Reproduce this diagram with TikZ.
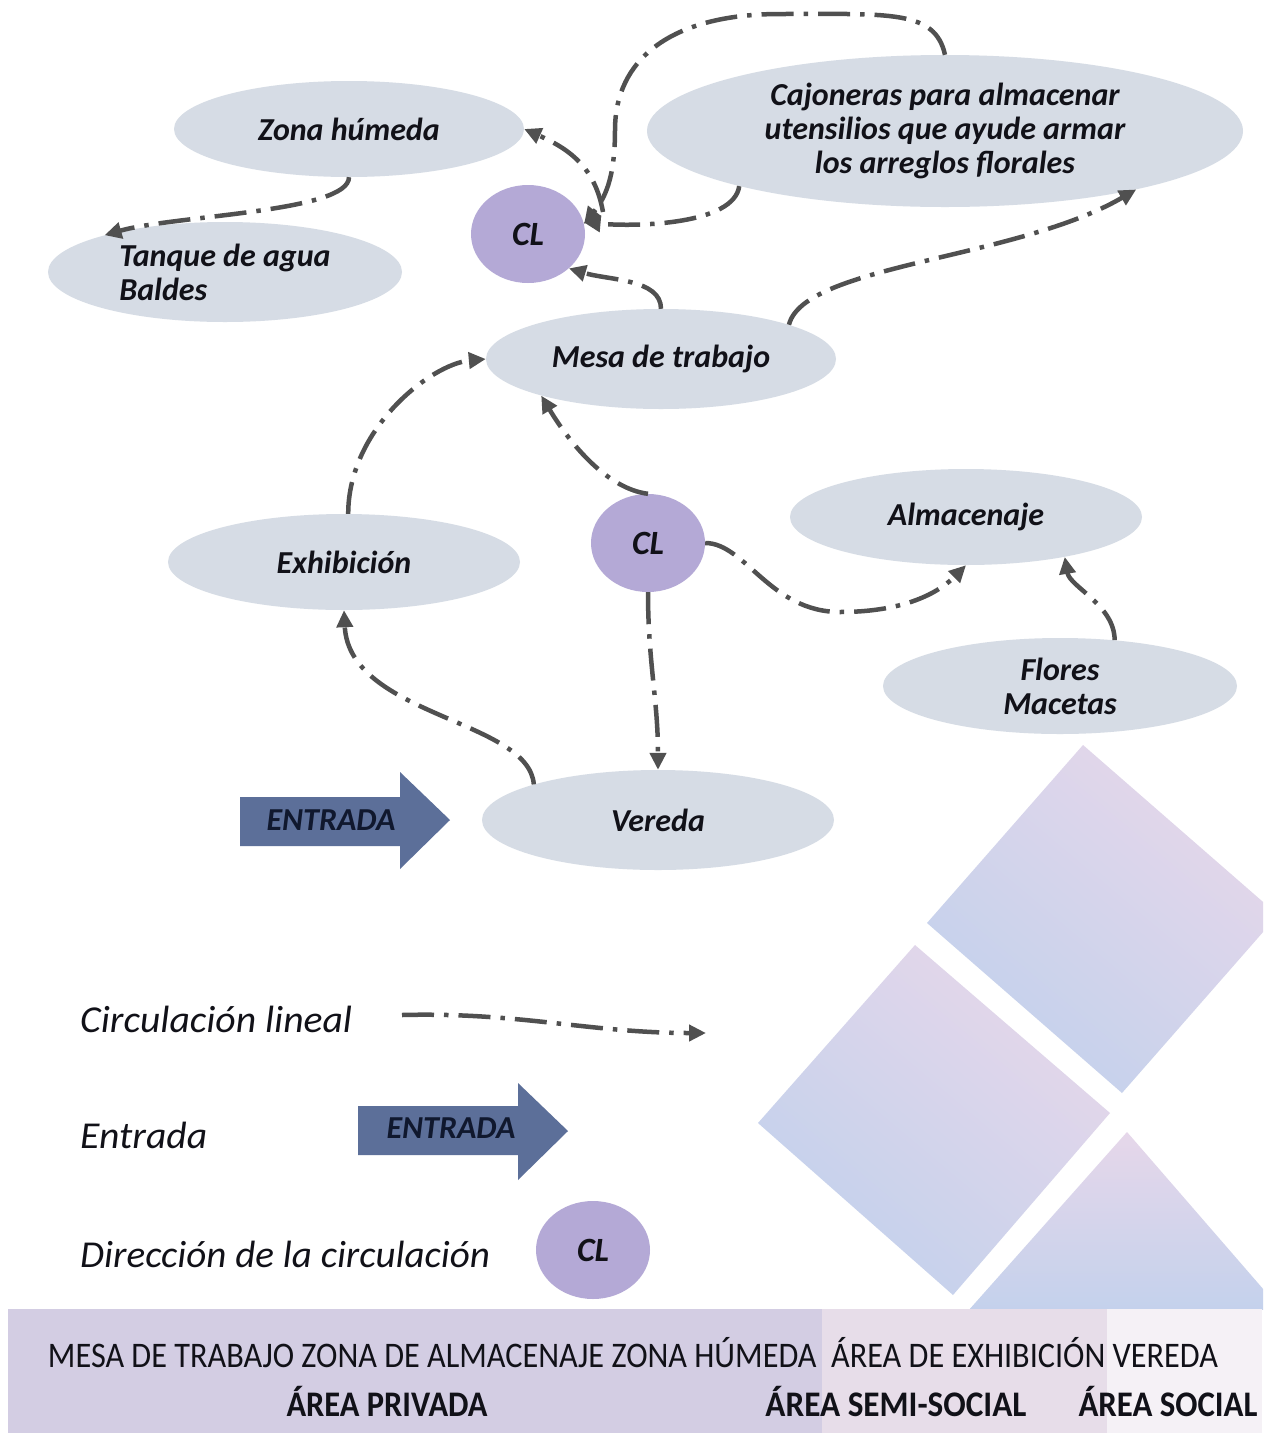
\documentclass[tikz,border=0pt]{standalone}
\usepackage{fontspec}
\usepackage{graphicx}
\setmainfont{Carlito}
\usetikzlibrary{arrows.meta,shapes.geometric}
\definecolor{ellfill}{HTML}{D6DCE5}
\definecolor{clfill}{HTML}{B4A9D6}
\definecolor{entfill}{HTML}{5C6F99}
\definecolor{linegray}{HTML}{505050}
\definecolor{txt}{HTML}{111118}
\definecolor{enttxt}{HTML}{10182E}
\definecolor{bandA}{HTML}{D3CDE3}
\definecolor{bandB}{HTML}{E7DDE9}
\definecolor{bandC}{HTML}{F5F1F6}
\definecolor{dblue}{HTML}{C2D1EC}
\definecolor{dpink}{HTML}{E6D7EA}
\newcommand\nodefont{\fontsize{32}{34}\selectfont\bfseries\itshape}
\newcommand\clfont{\fontsize{34}{38}\selectfont\bfseries\itshape}
\newcommand\legfont{\fontsize{38}{42}\selectfont\itshape}
\newcommand\entfont{\fontsize{32}{36}\selectfont\bfseries\itshape}
\begin{document}
\begin{tikzpicture}[x=1pt,y=-1pt,
  area/.style={ellipse, fill=ellfill, inner sep=0pt, align=center, text=txt, font=\nodefont},
  clnode/.style={ellipse, fill=clfill, inner sep=0pt, minimum width=114pt, minimum height=98pt, text=txt, font=\clfont},
  flow/.style={draw=linegray, line width=4.5pt, dash pattern=on 32pt off 10pt on 4.5pt off 10pt, -{Triangle[length=17pt,width=16pt]}},
  entarrow/.style={fill=entfill},
  enttext/.style={inner sep=0pt, text=enttxt, font=\entfont},
  legtext/.style={anchor=base west, inner sep=0pt, text=txt, font=\legfont},
  bandtext/.style={anchor=base, inner sep=0pt, text=txt},
]
\useasboundingbox (0,0) rectangle (1271,1433);
\fill[white] (0,0) rectangle (1271,1433);

% decorative shapes
\begin{scope}
\clip (0,0) rectangle (1263,1309);
\shade[top color=dpink, bottom color=dblue, shading angle=-40]
  (1083,745) -- (1278,915) -- (1122,1093) -- (927,923) -- cycle;
\shade[top color=dpink, bottom color=dblue, shading angle=-40]
  (915,945) -- (1110,1113) -- (953,1295) -- (758,1123) -- cycle;
\shade[top color=dpink, bottom color=dblue]
  (1127,1132) -- (1290,1320) -- (960,1320) -- cycle;
\end{scope}

% bottom band
\fill[bandA] (8,1309) rectangle (822,1433);
\fill[bandB] (822,1309) rectangle (1107,1433);
\fill[bandC] (1107,1309) rectangle (1262,1433);
\node[bandtext] (b1) at (633,1367) {\resizebox{1170pt}{\height}{\fontsize{36}{40}\selectfont MESA DE TRABAJO ZONA DE ALMACENAJE ZONA HÚMEDA \ ÁREA DE EXHIBICIÓN VEREDA}};
\node[bandtext] (b2) at (387,1416) {\resizebox{201pt}{\height}{\fontsize{36}{40}\selectfont\bfseries ÁREA PRIVADA}};
\node[bandtext] (b3) at (896,1416) {\resizebox{261pt}{\height}{\fontsize{36}{40}\selectfont\bfseries ÁREA SEMI-SOCIAL}};
\node[bandtext] (b4) at (1168,1416) {\resizebox{179pt}{\height}{\fontsize{36}{40}\selectfont\bfseries ÁREA SOCIAL}};

% nodes
\node[area, minimum width=350pt, minimum height=96pt] (zona) at (349,129) {Zona húmeda};
\node[area, minimum width=354pt, minimum height=100pt, align=left] (tanque) at (225,272) {Tanque de agua\\Baldes};
\node[area, minimum width=596pt, minimum height=152pt] (cajo) at (945,131) {Cajoneras para almacenar\\utensilios que ayude armar\\los arreglos florales};
\node[clnode] (cl1) at (528,234) {CL};
\node[area, minimum width=350pt, minimum height=100pt] (mesa) at (661,359) {Mesa de trabajo};
\node[area, minimum width=352pt, minimum height=96pt] (exhib) at (344,562) {Exhibición};
\node[clnode] (cl2) at (648,543) {CL};
\node[area, minimum width=352pt, minimum height=96pt] (alm) at (966,517) {Almacenaje};
\node[area, minimum width=354pt, minimum height=96pt] (flores) at (1060,686) {Flores\\Macetas};
\node[area, minimum width=352pt, minimum height=100pt] (vereda) at (658,820) {Vereda};

% entrance arrow
\fill[entarrow] (240,797) -- (400,797) -- (400,772) -- (450,820) -- (400,869) -- (400,846) -- (240,846) -- cycle;
\node[enttext] (ent1) at (331,820) {ENTRADA};

% connectors
\coordinate (jn) at (603,212);
\draw[flow] (zona.south) .. controls +(0,35) and +(70,-20) .. (tanque.163);
\draw[flow] (mesa.north) .. controls +(0,-30) and +(40,12) .. (cl1.-40);
\draw[flow] (jn) .. controls +(-8,-45) and +(45,20) .. (zona.east);
\draw[flow] (cajo.north) .. controls +(-10,-45) and +(110,0) .. (780,14) .. controls +(-110,0) and +(0,-70) .. (615,130) .. controls +(0,50) and +(20,-25) .. (cl1.10);
\draw[flow] (cajo.195) .. controls +(-5,38) and +(55,5) .. (cl1.12);
\draw[flow] (mesa.15) .. controls +(15,-60) and +(-120,70) .. (cajo.-17);
\draw[flow] (exhib.85) .. controls +(0,-85) and +(-55,5) .. (mesa.west);
\draw[flow] (cl2.north) .. controls +(-40,-5) and +(30,50) .. (mesa.197);
\draw[flow] (cl2.east) .. controls +(40,0) and +(-70,0) .. (840,612) .. controls +(60,0) and +(-30,30) .. (alm.south);
\draw[flow] (flores.40) .. controls +(0,-35) and +(5,30) .. (alm.-22);
\draw[flow] (cl2.south) .. controls +(0,70) and +(0,-70) .. (vereda.north);
\draw[flow] (vereda.164) .. controls +(-5,-65) and +(5,106) .. (exhib.south);

% legend
\node[legtext] (lg1) at (80,1032) {\resizebox{272pt}{\height}{Circulación lineal}};
\coordinate (lgA) at (402,1015);
\coordinate (lgB) at (706,1033);
\draw[flow] (lgA) .. controls (520,1012) and (590,1033) .. (lgB);
\node[legtext] (lg2) at (80,1148) {\resizebox{127pt}{\height}{Entrada}};
\fill[entarrow] (358,1106) -- (518,1106) -- (518,1083) -- (568,1131) -- (518,1180) -- (518,1155) -- (358,1155) -- cycle;
\node[enttext] (ent2) at (451,1128) {ENTRADA};
\node[legtext] (lg3) at (80,1267) {\resizebox{410pt}{\height}{Dirección de la circulación}};
\node[clnode] (cl3) at (593,1250) {CL};
\end{tikzpicture}
\end{document}
